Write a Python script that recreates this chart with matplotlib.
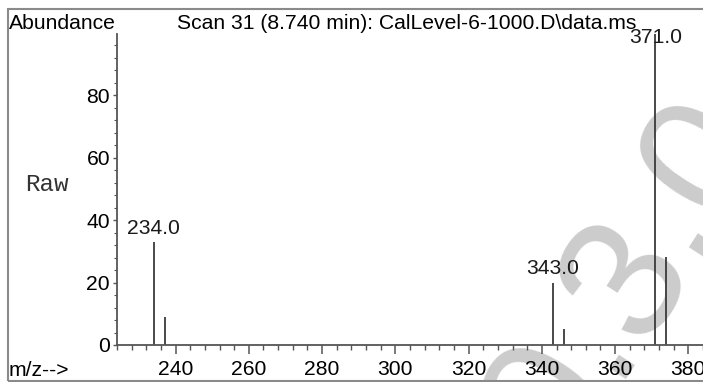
"""Mass spectrum: scan 31 of CalLevel-6-1000"""
import matplotlib
matplotlib.use("Agg")
import matplotlib.pyplot as plt
from matplotlib.patches import Rectangle
from matplotlib.ticker import MultipleLocator

plt.rcParams["font.family"] = ["Liberation Sans", "DejaVu Sans"]

# peaks (m/z, relative abundance)
mz = [234, 237, 343, 346, 371, 374]
abundance = [33, 9, 20, 5, 100, 28.3]
labelled = [234, 343, 371]

title = "Scan 31 (8.740 min): CalLevel-6-1000.D\\data.ms"

fig = plt.figure(figsize=(7.03, 3.82), dpi=100)
W, H = 703, 382
fs = 15.2

# faint watermark behind everything
fig.text(630 / W, 1 - 280 / H, "0.3.0", rotation=57, rotation_mode="anchor",
         ha="center", va="center", fontsize=125, color="#cccccc", zorder=-5)

# grey frame round the whole plot
fig.patches.append(Rectangle((8 / W, 1 / H), 1.2, 372 / H, transform=fig.transFigure,
                             fill=False, edgecolor="#8a8a8a", lw=1.5, zorder=-4))

ax = fig.add_axes([117 / W, 37 / H, (W - 117) / W, 311 / H])
ax.patch.set_alpha(0)

ax.vlines(mz, 0, abundance, color="#3a3a3a", lw=1.3)
ax.set_xlim(224, 384)
ax.set_ylim(0, 99.6)

for m, a in zip(mz, abundance):
    if m in labelled:
        ax.annotate(f"{m:.1f}", (m, min(a, 94.0)), xytext=(0, 3), textcoords="offset points",
                    ha="center", va="bottom", fontsize=fs, color="#1a1a1a")

for side in ["top", "right"]:
    ax.spines[side].set_visible(False)
for side in ["left", "bottom"]:
    ax.spines[side].set_color("#555555")
    ax.spines[side].set_linewidth(1.3)

ax.xaxis.set_major_locator(MultipleLocator(20))
ax.xaxis.set_minor_locator(MultipleLocator(4))
ax.yaxis.set_major_locator(MultipleLocator(20))
ax.yaxis.set_minor_locator(MultipleLocator(4))
ax.tick_params(axis="x", which="major", length=6.5, width=1.1, pad=4, labelsize=fs, color="#555555")
ax.tick_params(axis="x", which="minor", length=3.5, width=1.0, color="#555555")
ax.tick_params(axis="y", which="major", length=3, width=1.0, pad=2, labelsize=fs, color="#555555")
ax.tick_params(axis="y", which="minor", length=2, width=0.8, color="#555555")

fig.text(9 / W, 1 - 29 / H, "Abundance", fontsize=fs, va="baseline", ha="left")
fig.text(177 / W, 1 - 29 / H, title, fontsize=fs, va="baseline", ha="left")
fig.text(25 / W, 1 - 191 / H, "Raw", fontsize=17.5, family="Liberation Mono", va="baseline",
         ha="left", color="#333333")
fig.text(9 / W, 1 - 376 / H, "m/z-->", fontsize=fs, va="baseline", ha="left")

fig.savefig("out.png", dpi=100)
